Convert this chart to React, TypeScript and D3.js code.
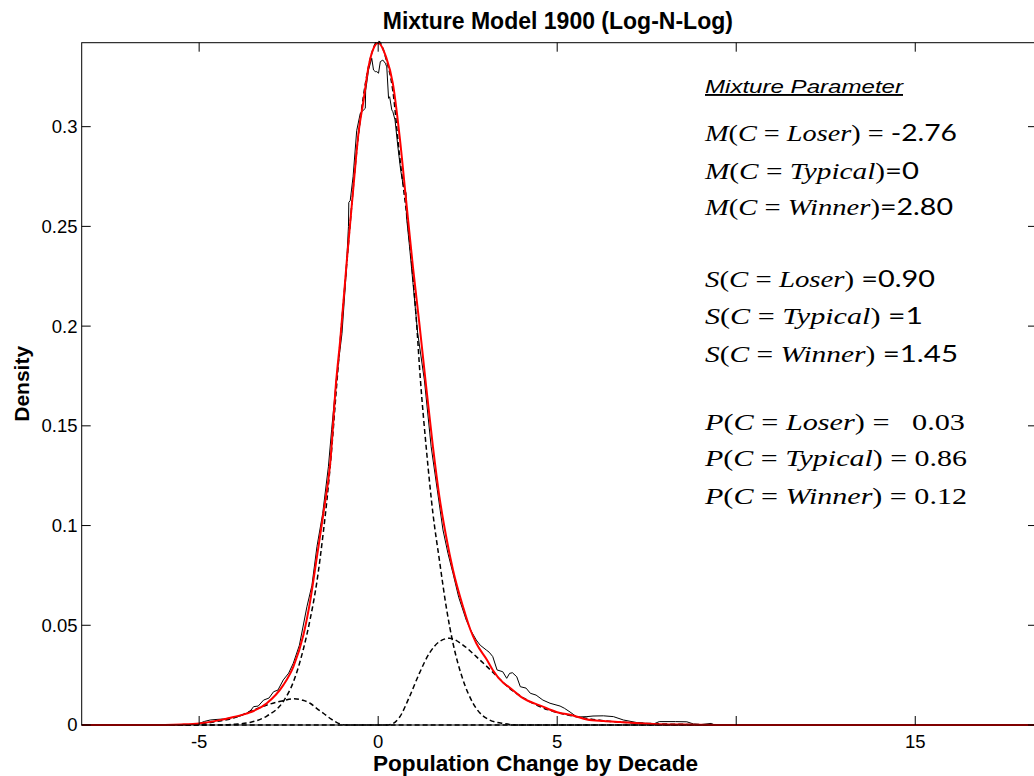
import React from 'react';
import * as d3 from 'd3';

// ---------- data ----------
const xTicks = [-5, 0, 5, 10, 15];
const xTickLabels = ['-5', '0', '5', '', '15'];
const yTicks = [0, 0.05, 0.1, 0.15, 0.2, 0.25, 0.3];
const yTickLabels = ['0', '0.05', '0.1', '0.15', '0.2', '0.25', '0.3'];

const titleText = 'Mixture Model 1900 (Log-N-Log)';
const xLabelText = 'Population Change by Decade';
const yLabelText = 'Density';
const annTitle = 'Mixture Parameter';
const annMath = [
  'M(C = Loser) = ', 'M(C = Typical)', 'M(C = Winner)',
  'S(C = Loser) ', 'S(C = Typical) ', 'S(C = Winner) ',
  'P(C = Loser) =   ', 'P(C = Typical) = ', 'P(C = Winner) = ',
];
const annNum = ['-2.76', '=0', '=2.80', '=0.90', '=1', '=1.45', '0.03', '0.86', '0.12'];

// empirical density (thin black)
const empX = [-8.28, -5.3, -5.0, -4.85, -4.69, -4.5, -4.32, -4.04, -3.85, -3.67, -3.55, -3.48, -3.35, -3.2, -3.05, -2.92, -2.8, -2.65, -2.5, -2.37, -2.2, -1.99, -1.85, -1.71, -1.55, -1.39, -1.3, -1.17, -1.01, -0.9, -0.83, -0.82, -0.78, -0.7, -0.6, -0.5, -0.36, -0.35, -0.27, -0.18, -0.13, -0.08, -0.04, 0.01, 0.06, 0.13, 0.2, 0.24, 0.29, 0.32, 0.38, 0.41, 0.47, 0.55, 0.63, 0.69, 0.78, 0.79, 0.875, 0.97, 1.1, 1.29, 1.48, 1.65, 1.81, 1.95, 2.09, 2.25, 2.46, 2.6, 2.74, 2.85, 3.02, 3.1, 3.2, 3.32, 3.48, 3.59, 3.67, 3.75, 3.87, 3.97, 4.13, 4.25, 4.41, 4.6, 4.8, 5.08, 5.2, 5.36, 5.55, 5.83, 6.0, 6.29, 6.57, 6.85, 7.23, 7.69, 7.85, 8.3, 8.62, 8.81, 9.0, 9.3, 9.4, 18.4];
const empY = [0, 0, 0.0008, 0.0018, 0.0025, 0.0028, 0.003, 0.0038, 0.0045, 0.0059, 0.0075, 0.0092, 0.0095, 0.0125, 0.0135, 0.0167, 0.0175, 0.0226, 0.026, 0.031, 0.04, 0.0593, 0.07, 0.0894, 0.106, 0.1295, 0.148, 0.173, 0.1964, 0.225, 0.25, 0.262, 0.263, 0.275, 0.298, 0.3067, 0.3092, 0.318, 0.3284, 0.3343, 0.3284, 0.3276, 0.3276, 0.3268, 0.3326, 0.3334, 0.3318, 0.33, 0.3142, 0.315, 0.3084, 0.3075, 0.3034, 0.29, 0.278, 0.2716, 0.2666, 0.255, 0.24, 0.222, 0.197, 0.173, 0.1395, 0.118, 0.0978, 0.086, 0.076, 0.064, 0.0526, 0.047, 0.0426, 0.04, 0.0376, 0.0365, 0.0343, 0.0276, 0.0267, 0.0234, 0.0259, 0.0262, 0.0242, 0.0192, 0.0185, 0.0159, 0.015, 0.0125, 0.0109, 0.0095, 0.0084, 0.0065, 0.004, 0.0042, 0.0045, 0.0046, 0.0042, 0.0025, 0.0012, 0.0005, 0.0017, 0.0017, 0.0016, 0.0005, 0.0002, 0.0008, 0, 0];

// fitted mixture (red)
const fitX = [-8.28, -6.4, -5.5, -5.0, -4.5, -4.04, -3.58, -3.11, -2.65, -2.37, -2.09, -1.9, -1.71, -1.53, -1.34, -1.17, -1.06, -0.875, -0.69, -0.55, -0.41, -0.27, -0.18, 0, 0.22, 0.41, 0.6, 0.78, 0.97, 1.15, 1.32, 1.53, 1.71, 1.9, 2.09, 2.37, 2.57, 2.74, 3.04, 3.2, 3.5, 3.67, 4.0, 4.6, 5.0, 5.44, 5.83, 6.3, 6.76, 7.69, 8.5, 9.5, 18.4];
const fitY = [0, 0, 0.0003, 0.0008, 0.0022, 0.004, 0.0063, 0.0109, 0.02, 0.0292, 0.045, 0.062, 0.0844, 0.106, 0.1312, 0.173, 0.193, 0.233, 0.27, 0.2967, 0.313, 0.33, 0.3368, 0.342, 0.335, 0.3217, 0.295, 0.2632, 0.2298, 0.2014, 0.173, 0.1395, 0.1145, 0.0944, 0.0777, 0.0593, 0.048, 0.041, 0.0326, 0.0276, 0.021, 0.0188, 0.014, 0.0092, 0.0064, 0.0048, 0.0028, 0.002, 0.0015, 0.0005, 0.0002, 0, 0];

// component: loser (dashed)
const loserX = [-8.28, -5.5, -5.0, -4.5, -4.04, -3.58, -3.11, -2.65, -2.35, -2.1, -1.9, -1.71, -1.53, -1.3, -1.15, -0.9, 18.4];
const loserY = [0, 0, 0.0005, 0.0018, 0.0035, 0.0067, 0.01, 0.0122, 0.0131, 0.0124, 0.0109, 0.0082, 0.0059, 0.0028, 0.0012, 0, 0];

// component: typical (dashed)
const typicalX = [-8.28, -4.5, -4.0, -3.58, -3.11, -2.65, -2.37, -2.09, -1.9, -1.71, -1.53, -1.43, -1.3, -1.17, -0.875, -0.55, -0.27, 0, 0.22, 0.41, 0.6, 0.69, 0.875, 1.06, 1.18, 1.34, 1.53, 1.71, 1.9, 2.09, 2.37, 2.65, 3.02, 3.48, 4.0, 18.4];
const typicalY = [0, 0, 0.0004, 0.0013, 0.0045, 0.0118, 0.0215, 0.038, 0.053, 0.072, 0.097, 0.113, 0.138, 0.168, 0.232, 0.296, 0.33, 0.343, 0.334, 0.318, 0.285, 0.2716, 0.2432, 0.2047, 0.173, 0.1395, 0.106, 0.0827, 0.0593, 0.041, 0.0226, 0.0109, 0.0034, 0.0008, 0, 0];

// component: winner (dashed)
const winnerX = [-8.28, 0.2, 0.35, 0.6, 0.875, 1.15, 1.43, 1.71, 1.99, 2.37, 2.74, 3.2, 3.67, 4.13, 4.6, 5.06, 5.53, 6.0, 6.5, 7.0, 8.0, 9.0, 10.0, 18.4];
const winnerY = [0, 0, 0.0003, 0.004, 0.0142, 0.0259, 0.036, 0.0418, 0.0435, 0.0401, 0.0343, 0.0265, 0.0184, 0.0128, 0.0086, 0.006, 0.0042, 0.0028, 0.0018, 0.0012, 0.0005, 0.0002, 0, 0];

// ---------- layout ----------
const W = 1034;
const H = 776;
const M = { left: 81.7, right: 1037, top: 42.7, bottom: 725 };
const X_DOMAIN: [number, number] = [-8.28, 18.4];
const Y_DOMAIN: [number, number] = [0, 0.3421];
const TICK = 9;
const annBaselines = [141, 179, 215, 287, 324, 362, 430, 466, 504];
const annWidths = [252, 214, 248, 230, 218, 253, 260, 262, 262];
const ANN_X = 705;
const TICK_FS = 18.5;

const SANS = '"Liberation Sans", Arial, Helvetica, sans-serif';
const SERIF = '"Liberation Serif", "DejaVu Serif", serif';
const NUM = 'Lato, "Open Sans", sans-serif';

const zip = (xs: number[], ys: number[]) => xs.map((x, i) => [x, ys[i]] as [number, number]);

function MathLine({ math, num, y, w, serifNum }: { math: string; num: string; y: number; w: number; serifNum: boolean }) {
  const parts = math.match(/[A-Za-z]+|[^A-Za-z]+/g) || [];
  return (
    <text x={ANN_X} y={y} fontSize={24} textLength={w} lengthAdjust="spacingAndGlyphs" style={{ whiteSpace: 'pre' }} fill="#000">
      {parts.map((p, i) => (
        <tspan key={i} fontFamily={SERIF} fontStyle={/[A-Za-z]/.test(p) ? 'italic' : 'normal'}>{p}</tspan>
      ))}
      <tspan fontFamily={serifNum ? SERIF : NUM}>{num}</tspan>
    </text>
  );
}

export default function App() {
  const x = d3.scaleLinear().domain(X_DOMAIN).range([M.left, M.right]);
  const y = d3.scaleLinear().domain(Y_DOMAIN).range([M.bottom, M.top]);
  const smooth = d3.line<[number, number]>().x(d => x(d[0])).y(d => y(d[1])).curve(d3.curveMonotoneX);
  const straight = d3.line<[number, number]>().x(d => x(d[0])).y(d => y(d[1]));

  const cx = (M.left + M.right) / 2;

  return (
    <svg width={W} height={H} style={{ position: 'absolute', left: 0, top: 0, display: 'block', background: '#fff' }}>
      <defs>
        <clipPath id="plotclip">
          <rect x={M.left} y={M.top - 2} width={M.right - M.left} height={M.bottom - M.top + 4} />
        </clipPath>
      </defs>
      <rect x={0} y={0} width={W} height={H} fill="#fff" />

      {/* title */}
      <text x={cx - 1.5} y={29.3} textAnchor="middle" fontFamily={SANS} fontWeight="bold" fontSize={23} fill="#000">{titleText}</text>

      {/* curves */}
      <g clipPath="url(#plotclip)" fill="none">
        <path d={smooth(zip(loserX, loserY)) || ''} stroke="#000" strokeWidth={1.5} strokeDasharray="5,3" />
        <path d={smooth(zip(typicalX, typicalY)) || ''} stroke="#000" strokeWidth={1.5} strokeDasharray="5,3" />
        <path d={smooth(zip(winnerX, winnerY)) || ''} stroke="#000" strokeWidth={1.5} strokeDasharray="5,3" />
        <path d={straight(zip(empX, empY)) || ''} stroke="#000" strokeWidth={1} />
        <path d={smooth(zip(fitX, fitY)) || ''} stroke="#ff0000" strokeWidth={2} />
      </g>

      {/* frame */}
      <rect x={M.left} y={M.top} width={M.right - M.left} height={M.bottom - M.top} fill="none" stroke="#000" strokeWidth={1} />

      {/* x ticks */}
      {xTicks.map((t, i) => (
        <g key={'xt' + i}>
          <line x1={x(t)} x2={x(t)} y1={M.bottom} y2={M.bottom - TICK} stroke="#000" />
          <line x1={x(t)} x2={x(t)} y1={M.top} y2={M.top + TICK} stroke="#000" />
          <text x={x(t)} y={747.5} textAnchor="middle" fontFamily={SANS} fontSize={TICK_FS} fill="#000">{xTickLabels[i]}</text>
        </g>
      ))}
      {/* y ticks */}
      {yTicks.map((t, i) => (
        <g key={'yt' + i}>
          <line x1={M.left} x2={M.left + TICK} y1={y(t)} y2={y(t)} stroke="#000" />
          <line x1={M.right} x2={M.right - TICK} y1={y(t)} y2={y(t)} stroke="#000" />
          <text x={77.5} y={y(t)} dy="0.35em" textAnchor="end" fontFamily={SANS} fontSize={TICK_FS} fill="#000">{yTickLabels[i]}</text>
        </g>
      ))}

      {/* axis labels */}
      <text x={373} y={771} fontFamily={SANS} fontWeight="bold" fontSize={21.5} textLength={325} lengthAdjust="spacingAndGlyphs" fill="#000">{xLabelText}</text>
      <text transform={`translate(29, ${(M.top + M.bottom) / 2}) rotate(-90)`} textAnchor="middle" fontFamily={SANS} fontWeight="bold" fontSize={21} fill="#000">{yLabelText}</text>

      {/* annotation */}
      <text x={ANN_X} y={93} fontFamily={SANS} fontStyle="italic" fontSize={19} textLength={198} lengthAdjust="spacingAndGlyphs" textDecoration="underline" fill="#000">{annTitle}</text>
      {annMath.map((m, i) => (
        <MathLine key={'ann' + i} math={m} num={annNum[i]} y={annBaselines[i]} w={annWidths[i]} serifNum={i >= 6} />
      ))}
    </svg>
  );
}
